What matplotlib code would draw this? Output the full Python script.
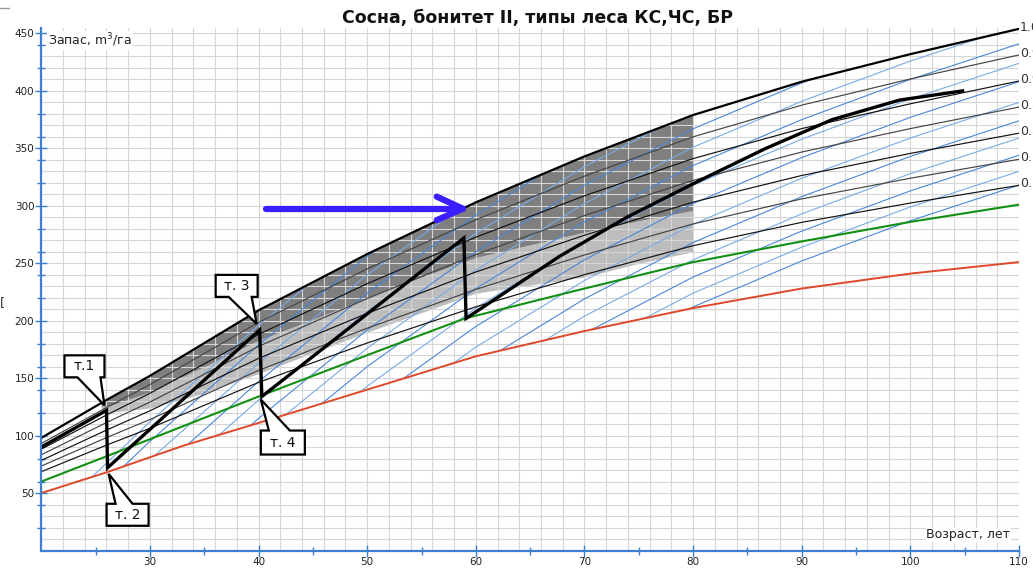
import matplotlib
matplotlib.use("Agg")
import matplotlib.pyplot as plt
import numpy as np
from matplotlib.patches import Polygon
from matplotlib.transforms import ScaledTranslation
from matplotlib.lines import Line2D

# full stocking curve (relative density 1.0)
full_age = [20, 26, 30, 40, 50, 60, 70, 80, 90, 100, 110]
full_val = [98, 131, 152, 209, 258, 303, 343, 379, 408, 432, 454]

# other relative density lines, drawn as fractions of the full curve
density_levels = [0.95, 0.9, 0.85, 0.8, 0.75, 0.7]
right_labels = ["1.0", "0.95", "0.9", "0.85", "0.8", "0.75", "0.7"]

green_age = [20, 26, 33, 40, 50, 59, 70, 80, 90, 100, 110]
green_val = [60, 82, 108, 134, 170, 202, 228, 251, 269, 286, 301]

red_age = [20, 26, 33, 40, 50, 60, 70, 80, 90, 100, 110]
red_val = [50, 68, 91, 111, 140, 169, 191, 211, 228, 241, 251]

# thinning path (thick black)
path_age = [20, 26.0, 26.1, 40.1, 40.3, 58.9, 59.1, 67.7, 73.9, 80.6, 86.7, 92.8, 99.0, 104.8]
path_val = [90, 122, 72, 192, 134, 272, 202, 256, 290, 322, 350, 375, 392, 400]

# growth lines (blue): common growth shape, shifted by an offset per line
growth_age = [20, 30, 40, 50, 60, 70, 80, 90, 100, 110]
growth_val = [0, 90, 174, 251, 319, 377, 426, 466, 501, 532]
growth_offsets = [22, 5, -11, -27, -43, -59, -75, -91, -108, -124, -142, -158,
                  -173, -188, -202, -214]

# shaded zones
shade_age = [25.5, 26, 30, 35, 40, 45, 50, 55, 60, 65, 70, 75, 80]
dark_low = [126, 125, 138, 160, 183, 201, 220, 238, 255, 266, 277, 287, 296]
light_low = [124, 120, 124, 137, 154, 172, 190, 207, 224, 231, 238, 250, 260]

fig = plt.figure(figsize=(10.33, 5.70), dpi=100)
ax = fig.add_axes([0.03998, 0.0342, 0.9465, 0.9172])
ax.set_xlim(20, 110)
ax.set_ylim(0, 455)

full_a = np.array(full_age, dtype=float)
full_v = np.array(full_val, dtype=float)

# shading
top = np.interp(shade_age, full_a, full_v)
ax.fill_between(shade_age, light_low, dark_low, color="#bdbdbd", lw=0, zorder=1)
ax.fill_between(shade_age, dark_low, top, color="#7f7f7f", lw=0, zorder=1)

# grid
for gx in range(20, 111, 2):
    ax.axvline(gx, color="#d6d6d6", lw=0.8, zorder=1.5)
for gy in range(0, 456, 10):
    ax.axhline(gy, color="#d6d6d6", lw=0.8, zorder=1.5)

# blue growth lines, kept between the red line and the full curve
band = Polygon(np.column_stack([np.r_[full_a, np.array(red_age[::-1], float)],
                                np.r_[full_v, np.array(red_val[::-1], float)]]),
               closed=True, transform=ax.transData)
g_a = np.array(growth_age, dtype=float)
g_v = np.array(growth_val, dtype=float)
for k, off in enumerate(growth_offsets):
    col = "#4a86d8" if k % 2 else "#7aaae6"
    ln, = ax.plot(g_a, g_v + off, color=col, lw=0.8, zorder=2)
    ln.set_clip_path(band)

# density lines
for i, lev in enumerate(density_levels):
    col = "#111111" if i % 2 else "#444444"
    ax.plot(full_a, full_v * lev, color=col, lw=0.85, zorder=3)
ax.plot(full_a, full_v, color="black", lw=1.6, zorder=4)

ax.plot(green_age, green_val, color="#139013", lw=1.5, zorder=3)
ax.plot(red_age, red_val, color="#e0482a", lw=1.4, zorder=3)

ax.plot(path_age, path_val, color="black", lw=2.4, zorder=5,
        solid_joinstyle="miter")

# right-hand density labels
for lab, lev in zip(right_labels, [1.0] + density_levels):
    ax.text(110.1, full_v[-1] * lev + 1.5, lab, ha="left", va="center",
            fontsize=9, color="#333333", clip_on=False)

# callouts: label, path vertex index, box (x0, y0, x1, y1) px, tail base (xa, xb), tip px
callouts = [
    ("т.1", 1, (-42, -55, -2, -33), (-29, -6), (-2, -5)),
    ("т. 2", 2, (-1, 36, 41, 58), (8, 25), (1, 6)),
    ("т. 3", 3, (-44, -55, -2, -33), (-31, -8), (-3, -6)),
    ("т. 4", 4, (-1, 34, 43, 58), (7, 28), (-1, 3)),
]
for lab, idx, box, tail, tip in callouts:
    x0, y0, x1, y1 = box
    xa, xb = tail
    if tip[1] > y1:
        verts = [(x0, y0), (x1, y0), (x1, y1), (xb, y1), tip, (xa, y1), (x0, y1)]
    else:
        verts = [(x0, y0), (xa, y0), tip, (xb, y0), (x1, y0), (x1, y1), (x0, y1)]
    verts = [(vx / 100.0, -vy / 100.0) for vx, vy in verts]
    tr = fig.dpi_scale_trans + ScaledTranslation(path_age[idx], path_val[idx], ax.transData)
    ax.add_patch(Polygon(verts, closed=True, fc="white", ec="black", lw=1.6,
                         transform=tr, zorder=6, clip_on=False))
    ax.text((x0 + x1) / 200.0, -(y0 + y1) / 200.0, lab, transform=tr,
            ha="center", va="center", fontsize=10, color="#111111", zorder=7)

# blue pointer arrow
arrow_x = [40.7, 58.8]
arrow_y = 297.5
ax.plot(arrow_x, [arrow_y, arrow_y], color="#3a1eff", lw=4.5,
        solid_capstyle="round", zorder=6)
ax.plot([56.4, 58.8, 56.4], [arrow_y + 10.5, arrow_y, arrow_y - 10], color="#3a1eff",
        lw=4.5, solid_capstyle="round", solid_joinstyle="round", zorder=6)

# axes styling
for side in ["top", "right"]:
    ax.spines[side].set_visible(False)
for side in ["left", "bottom"]:
    ax.spines[side].set_color("#3d7fd1")
    ax.spines[side].set_linewidth(1.6)
    ax.spines[side].set_zorder(8)

ax.set_xticks(range(30, 111, 10))
ax.set_xticks(range(25, 110, 10), minor=True)
ax.set_yticks(range(50, 451, 50))
ax.set_yticks(range(20, 451, 20), minor=True)
ax.tick_params(which="major", direction="inout", length=8, width=1,
               color="#3d7fd1", labelsize=7.5, labelcolor="#222222", pad=1)
ax.tick_params(which="minor", direction="inout", length=6, width=1,
               color="#3d7fd1")

ax.text(20.6, 444, "Запас, m$^3$/га", fontsize=9, color="#222222",
        ha="left", va="center", zorder=9,
        bbox=dict(fc="white", ec="none", pad=0.5))
ax.text(109.2, 13.5, "Возраст, лет", fontsize=9, color="#222222",
        ha="right", va="center", zorder=9,
        bbox=dict(fc="white", ec="none", pad=0.5))

fig.text(0.52, 0.968, "Сосна, бонитет II, типы леса КС,ЧС, БР", ha="center",
         va="center", fontsize=12.5, fontweight="bold", color="#111111")

# screenshot edge remnants
fig.text(0.0, 0.47, "[", fontsize=9, color="#333333", va="center")
fig.add_artist(Line2D([0.0, 0.009], [0.986, 0.986], color="#999999", lw=1))

fig.savefig("out.png", dpi=100)
